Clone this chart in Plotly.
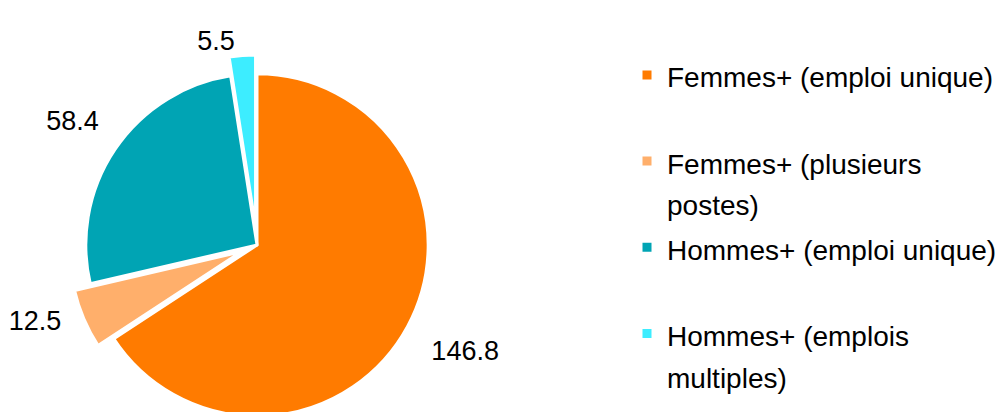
import plotly.graph_objects as go

# data
categories = [
    "Femmes+ (emploi unique)",
    "Femmes+ (plusieurs<br>postes)",
    "Hommes+ (emploi unique)",
    "Hommes+ (emplois<br>multiples)",
]
values = [146.8, 12.5, 58.4, 5.5]
colors = ["#FF7B00", "#FFAF6B", "#00A4B4", "#3DEDFF"]
pulls = [0, 0.10, 0, 0.11]

# the page body adds an 8px margin, so the figure is 8px narrower than the window
W, H = 1000, 440
FONT = "Liberation Sans, Arial, sans-serif"
NB = "\u00a0"


def legend_label(name):
    # every entry gets two lines so the legend slots are evenly spaced
    if "<br>" not in name:
        name = name + "<br> "
    return "<br>".join(f'<span style="font-size:28px">{part}</span>' for part in name.split("<br>"))


labels = [legend_label(c) for c in categories]

# padding nudges the outside labels a little further from the pie
templates = [
    NB + "<br>" + NB + "%{value}",
    "%{value}" + NB * 2,
    "%{value}<br>" + NB,
    "%{value}",
]

fig = go.Figure(go.Pie(
    labels=labels,
    values=values,
    sort=False,
    direction="clockwise",
    rotation=0,
    pull=pulls,
    marker=dict(colors=colors, line=dict(color="white", width=3)),
    texttemplate=templates,
    textposition="outside",
    textfont=dict(size=27, color="#000000", family=FONT),
    domain=dict(x=[0.059, 0.439], y=[0.0295, 0.8932]),
    hovertext=categories,
    hoverinfo="text+value",
))

fig.update_layout(
    width=W, height=H,
    margin=dict(l=0, r=0, t=0, b=0, autoexpand=False),
    paper_bgcolor="white",
    plot_bgcolor="white",
    font=dict(family=FONT, color="#000000"),
    legend=dict(
        x=0.619, y=0.91, xanchor="left", yanchor="top",
        font=dict(size=32, family=FONT, color="#000000"),
        valign="top",
        itemwidth=30,
    ),
)

fig.write_html("out.html")
